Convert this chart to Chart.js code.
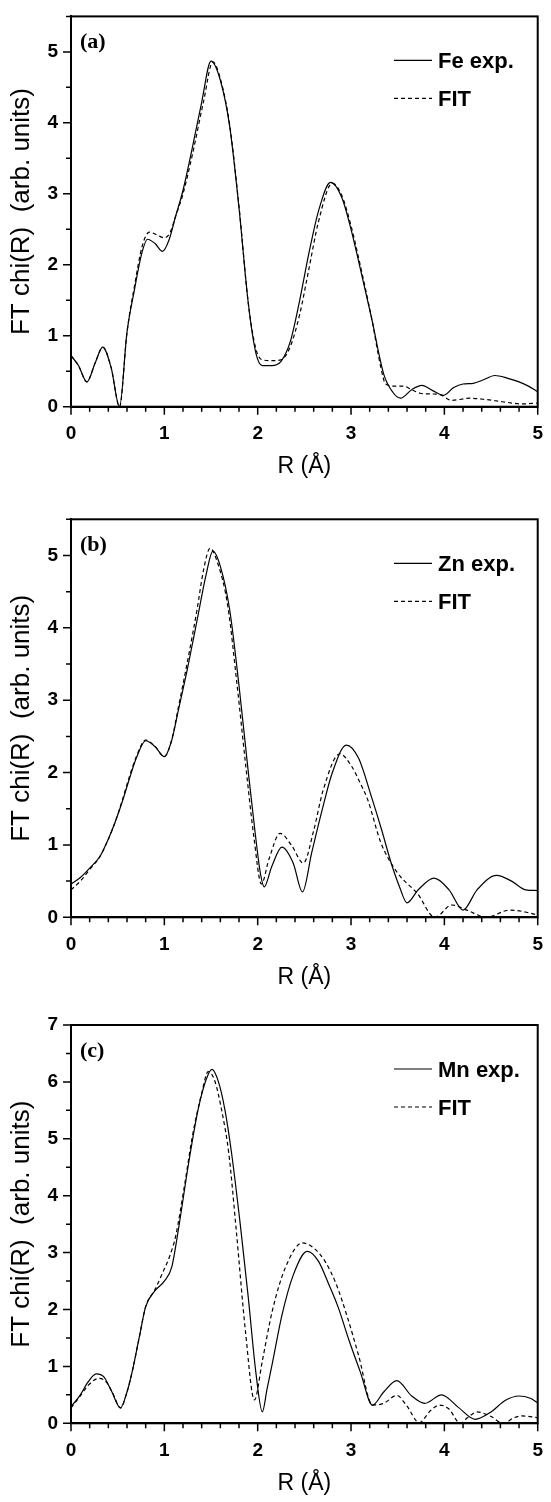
<!DOCTYPE html>
<html>
<head>
<meta charset="utf-8">
<script src="https://cdn.jsdelivr.net/npm/chart.js@4.4.1/dist/chart.umd.min.js"></script>
<style>
  html, body { margin: 0; padding: 0; background: #fff; }
  canvas { display: block; }
</style>
</head>
<body>
<canvas id="panelA" width="551" height="490"></canvas>
<canvas id="panelB" width="551" height="500"></canvas>
<canvas id="panelC" width="551" height="512"></canvas>
<script>
// (a) Fe
const feExpR = [0, 0.08, 0.17, 0.26, 0.34, 0.43, 0.52, 0.6, 0.68, 0.76, 0.82, 0.9, 0.98, 1.05, 1.12, 1.2, 1.3, 1.4, 1.5, 1.6, 1.7, 1.8, 1.9, 1.98, 2.05, 2.15, 2.25, 2.35, 2.45, 2.55, 2.65, 2.78, 2.9, 3.0, 3.06, 3.22, 3.35, 3.45, 3.53, 3.65, 3.76, 3.87, 3.99, 4.1, 4.2, 4.31, 4.42, 4.54, 4.68, 4.8, 4.9, 5.0];
const feExp  = [0.72, 0.58, 0.35, 0.62, 0.84, 0.55, 0.0, 1.05, 1.65, 2.17, 2.36, 2.3, 2.19, 2.35, 2.68, 3.05, 3.65, 4.29, 4.87, 4.6, 3.95, 2.8, 1.45, 0.76, 0.58, 0.58, 0.64, 0.92, 1.5, 2.17, 2.75, 3.16, 2.95, 2.5, 2.17, 1.25, 0.46, 0.2, 0.12, 0.24, 0.3, 0.23, 0.16, 0.27, 0.32, 0.33, 0.38, 0.44, 0.4, 0.35, 0.29, 0.21];
const feFitR = [0, 0.08, 0.17, 0.26, 0.34, 0.43, 0.52, 0.6, 0.68, 0.76, 0.84, 0.92, 1.0, 1.06, 1.12, 1.2, 1.3, 1.42, 1.52, 1.6, 1.7, 1.8, 1.9, 1.98, 2.05, 2.15, 2.25, 2.35, 2.45, 2.55, 2.65, 2.8, 2.9, 3.0, 3.06, 3.22, 3.32, 3.37, 3.47, 3.56, 3.65, 3.74, 3.85, 3.95, 4.08, 4.27, 4.45, 4.62, 4.83, 5.0];
const feFit  = [0.72, 0.58, 0.35, 0.62, 0.84, 0.55, 0.0, 1.05, 1.7, 2.25, 2.46, 2.42, 2.38, 2.45, 2.68, 3.0, 3.55, 4.3, 4.86, 4.62, 3.97, 2.82, 1.45, 0.82, 0.66, 0.65, 0.66, 0.85, 1.3, 1.95, 2.6, 3.15, 2.98, 2.55, 2.22, 1.25, 0.55, 0.32, 0.29, 0.29, 0.24, 0.19, 0.18, 0.17, 0.09, 0.12, 0.1, 0.07, 0.04, 0.05];

// (b) Zn
const znExpR = [0, 0.1, 0.2, 0.31, 0.4, 0.48, 0.55, 0.62, 0.7, 0.8, 0.9, 1.0, 1.08, 1.15, 1.25, 1.35, 1.45, 1.52, 1.6, 1.7, 1.8, 1.9, 1.97, 2.03, 2.07, 2.15, 2.26, 2.38, 2.48, 2.58, 2.69, 2.8, 2.95, 3.08, 3.22, 3.33, 3.43, 3.52, 3.6, 3.72, 3.89, 4.05, 4.2, 4.35, 4.56, 4.72, 4.87, 5.0];
const znExp  = [0.46, 0.55, 0.68, 0.84, 1.08, 1.34, 1.6, 1.89, 2.2, 2.44, 2.36, 2.22, 2.45, 2.86, 3.45, 4.1, 4.75, 5.06, 4.85, 4.25, 3.2, 2.0, 1.2, 0.6, 0.42, 0.7, 0.97, 0.75, 0.35, 0.9, 1.48, 2.0, 2.38, 2.2, 1.66, 1.2, 0.75, 0.42, 0.2, 0.38, 0.54, 0.38, 0.1, 0.38, 0.58, 0.5, 0.38, 0.37];
const znFitR = [0, 0.1, 0.2, 0.31, 0.4, 0.48, 0.55, 0.62, 0.7, 0.8, 0.9, 1.0, 1.08, 1.15, 1.25, 1.35, 1.42, 1.49, 1.57, 1.68, 1.78, 1.88, 1.96, 2.04, 2.12, 2.24, 2.36, 2.49, 2.6, 2.7, 2.88, 3.0, 3.1, 3.18, 3.32, 3.5, 3.71, 3.9, 4.08, 4.24, 4.45, 4.7, 4.88, 5.0];
const znFit  = [0.38, 0.5, 0.66, 0.84, 1.08, 1.34, 1.62, 1.92, 2.22, 2.45, 2.36, 2.22, 2.46, 2.9, 3.55, 4.25, 4.8, 5.1, 4.9, 4.3, 3.2, 2.0, 1.1, 0.46, 0.8, 1.16, 1.0, 0.75, 1.2, 1.75, 2.26, 2.1, 1.85, 1.62, 1.03, 0.61, 0.33, 0.0, 0.17, 0.1, 0.0, 0.1, 0.07, 0.03];

// (c) Mn
const mnExpR = [0, 0.1, 0.18, 0.27, 0.35, 0.43, 0.53, 0.6, 0.66, 0.73, 0.8, 0.9, 1.0, 1.08, 1.15, 1.26, 1.36, 1.45, 1.51, 1.58, 1.65, 1.72, 1.82, 1.9, 1.98, 2.05, 2.1, 2.16, 2.26, 2.38, 2.53, 2.65, 2.76, 2.86, 2.98, 3.1, 3.23, 3.35, 3.49, 3.65, 3.79, 3.97, 4.15, 4.33, 4.5, 4.65, 4.8, 4.92, 5.0];
const mnExp  = [0.29, 0.5, 0.72, 0.87, 0.82, 0.58, 0.27, 0.55, 0.94, 1.5, 2.05, 2.33, 2.5, 2.75, 3.4, 4.57, 5.5, 6.05, 6.22, 6.0, 5.5, 4.75, 3.4, 2.2, 0.9, 0.2, 0.6, 1.08, 1.9, 2.6, 3.02, 2.85, 2.45, 2.05, 1.45, 0.9, 0.32, 0.55, 0.75, 0.48, 0.35, 0.5, 0.28, 0.07, 0.2, 0.4, 0.48, 0.44, 0.36];
const mnFitR = [0, 0.1, 0.18, 0.3, 0.38, 0.45, 0.53, 0.6, 0.66, 0.73, 0.8, 0.9, 0.98, 1.06, 1.12, 1.22, 1.3, 1.4, 1.47, 1.54, 1.62, 1.69, 1.77, 1.87, 1.965, 2.05, 2.16, 2.3, 2.48, 2.6, 2.72, 2.84, 2.96, 3.08, 3.23, 3.35, 3.49, 3.6, 3.73, 3.85, 3.95, 4.05, 4.17, 4.25, 4.35, 4.5, 4.63, 4.75, 4.83, 5.0];
const mnFit  = [0.27, 0.48, 0.66, 0.79, 0.72, 0.52, 0.27, 0.55, 0.94, 1.5, 2.05, 2.35, 2.64, 2.95, 3.28, 4.22, 5.04, 5.8, 6.18, 6.02, 5.45, 4.75, 3.4, 1.6, 0.41, 1.1, 2.0, 2.75, 3.17, 3.08, 2.85, 2.45, 1.87, 1.2, 0.32, 0.35, 0.49, 0.3, 0.01, 0.22, 0.32, 0.25, 0.0, 0.1, 0.2, 0.12, 0.0, 0.1, 0.13, 0.1];

const xTickLabels = ['0', '1', '2', '3', '4', '5'];

function pts(xs, ys) {
    return xs.map((x, i) => ({ x: x, y: ys[i] }));
}

// frame, minor/major ticks, panel tag and in-plot legend
const decorations = {
    id: 'decorations',
    afterDraw(chart, args, opts) {
        const { ctx, chartArea: a, scales: { x, y } } = chart;
        ctx.save();
        ctx.strokeStyle = '#000';
        ctx.fillStyle = '#000';
        ctx.lineWidth = 2;
        ctx.strokeRect(a.left, a.top, a.right - a.left, a.bottom - a.top);

        ctx.lineWidth = 1.5;
        ctx.beginPath();
        for (let i = 0; i <= 25; i++) {
            const px = x.getPixelForValue(i * 0.2);
            const len = i % 5 === 0 ? 8 : 5;
            ctx.moveTo(px, a.bottom);
            ctx.lineTo(px, a.bottom + len);
        }
        for (let i = 0; i <= y.max * 2; i++) {
            const py = y.getPixelForValue(i * 0.5);
            const len = i % 2 === 0 ? 8 : 5;
            ctx.moveTo(a.left, py);
            ctx.lineTo(a.left - len, py);
        }
        ctx.stroke();

        ctx.font = 'bold 22px "Liberation Serif"';
        ctx.textBaseline = 'alphabetic';
        ctx.textAlign = 'left';
        ctx.fillText(opts.tag, a.left + 9, a.top + 32);

        chart.data.datasets.forEach((ds, i) => {
            const yy = a.top + 44 + i * 38;
            ctx.lineWidth = 1.2;
            ctx.setLineDash(ds.borderDash || []);
            ctx.beginPath();
            ctx.moveTo(a.left + 323, yy);
            ctx.lineTo(a.left + 361, yy);
            ctx.stroke();
            ctx.setLineDash([]);
            ctx.font = 'bold 22px "Liberation Sans"';
            ctx.fillText(ds.label, a.left + 367, yy + 8);
        });
        ctx.restore();
    }
};

function makePanel(id, tag, expLabel, expData, fitData, yMax, padTop, axisH) {
    const ctx = document.getElementById(id).getContext('2d');
    return new Chart(ctx, {
        type: 'line',
        data: {
            datasets: [{
                label: expLabel,
                data: expData,
                borderColor: '#000',
                borderWidth: 1.2,
                pointRadius: 0,
                cubicInterpolationMode: 'monotone',
                fill: false
            }, {
                label: 'FIT',
                data: fitData,
                borderColor: '#000',
                borderWidth: 1.2,
                borderDash: [4, 3],
                pointRadius: 0,
                cubicInterpolationMode: 'monotone',
                fill: false
            }]
        },
        options: {
            responsive: false,
            animation: false,
            devicePixelRatio: 1,
            layout: { padding: { top: padTop, right: 7.5, left: 0, bottom: 0 } },
            plugins: {
                legend: { display: false },
                tooltip: { enabled: false },
                decorations: { tag: tag }
            },
            scales: {
                x: {
                    type: 'linear',
                    min: 0,
                    max: 5,
                    afterFit: (s) => { s.height = axisH; },
                    grid: { drawOnChartArea: false, color: 'transparent', tickLength: 8 },
                    border: { color: '#000', width: 2 },
                    ticks: {
                        stepSize: 1,
                        padding: 8,
                        color: '#000',
                        font: { family: 'Liberation Sans', size: 19, weight: 'bold' },
                        callback: (v) => xTickLabels[Math.round(v)]
                    },
                    title: {
                        display: true,
                        text: 'R (Å)',
                        color: '#000',
                        font: { family: 'Liberation Sans', size: 23 },
                        padding: { top: 0, bottom: axisH - 60 - 14 }
                    }
                },
                y: {
                    min: 0,
                    max: yMax,
                    afterFit: (s) => { s.width = 71; },
                    grid: { drawOnChartArea: false, color: 'transparent', tickLength: 8 },
                    border: { color: '#000', width: 2 },
                    ticks: {
                        stepSize: 1,
                        includeBounds: false,
                        padding: 5,
                        color: '#000',
                        font: { family: 'Liberation Sans', size: 19, weight: 'bold' },
                        callback: (v) => Number.isInteger(v) ? String(v) : ''
                    },
                    title: {
                        display: true,
                        text: 'FT chi(R)  (arb. units)',
                        color: '#000',
                        font: { family: 'Liberation Sans', size: 26 },
                        padding: { top: 6, bottom: 0 }
                    }
                }
            }
        },
        plugins: [decorations]
    });
}

makePanel('panelA', '(a)', 'Fe exp.', pts(feExpR, feExp), pts(feFitR, feFit), 5.5, 8, 83.3);
makePanel('panelB', '(b)', 'Zn exp.', pts(znExpR, znExp), pts(znFitR, znFit), 5.5, 29.3, 72.7);
makePanel('panelC', '(c)', 'Mn exp.', pts(mnExpR, mnExp), pts(mnFitR, mnFit), 7, 35, 78.7);
</script>
</body>
</html>
